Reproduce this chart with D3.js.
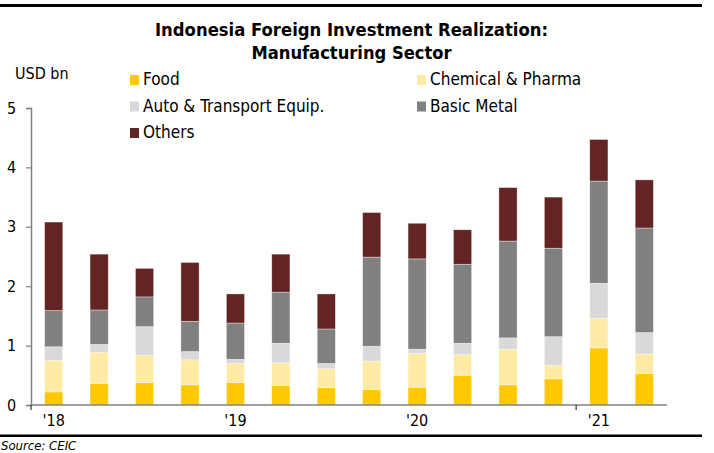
<!DOCTYPE html>
<html>
<head>
<meta charset="utf-8">
<script src="https://cdn.jsdelivr.net/npm/d3@7"></script>
<style>
	body { margin: 0; background: #fff; }
	svg { display: block; }
</style>
</head>
<body>
<div class="chart"></div>
<script>
// quarterly data, Q1 2018 - Q2 2021 (USD bn)
var quarters = ["2018Q1","2018Q2","2018Q3","2018Q4","2019Q1","2019Q2","2019Q3","2019Q4",
	"2020Q1","2020Q2","2020Q3","2020Q4","2021Q1","2021Q2"];
var food     = [0.22, 0.36, 0.38, 0.34, 0.38, 0.33, 0.29, 0.26, 0.30, 0.50, 0.34, 0.44, 0.96, 0.53];
var chemical = [0.53, 0.53, 0.46, 0.42, 0.32, 0.38, 0.32, 0.48, 0.57, 0.35, 0.60, 0.23, 0.50, 0.33];
var auto     = [0.23, 0.13, 0.48, 0.14, 0.07, 0.33, 0.09, 0.25, 0.07, 0.19, 0.19, 0.48, 0.59, 0.36];
var metal    = [0.61, 0.58, 0.50, 0.51, 0.61, 0.86, 0.58, 1.50, 1.52, 1.33, 1.63, 1.49, 1.72, 1.76];
var others   = [1.49, 0.94, 0.48, 0.99, 0.49, 0.64, 0.59, 0.75, 0.60, 0.58, 0.90, 0.86, 0.70, 0.81];

var seriesNames = ["Food", "Chemical & Pharma", "Auto & Transport Equip.", "Basic Metal", "Others"];
var yTicks = [0, 1, 2, 3, 4, 5];
var xLabels = {"2018Q1": "'18", "2019Q1": "'19", "2020Q1": "'20", "2021Q1": "'21"};
var xTickMarks = ["2018Q1", "2021Q1"];

var colors = ["#ffc800", "#ffeba5", "#d9d9d9", "#808080", "#632523"];
var font = "'DejaVu Sans Condensed', 'DejaVu Sans', sans-serif";

var w = 714, h = 453;
var svg = d3.select('.chart')
	.append('svg')
	.attr('width', w)
	.attr('height', h);

var rows = quarters.map(function(q, i){
	return {q: q, s0: food[i], s1: chemical[i], s2: auto[i], s3: metal[i], s4: others[i]};
});
var stack = d3.stack().keys(["s0","s1","s2","s3","s4"]);
var layers = stack(rows);

var x = d3.scaleBand()
	.domain(quarters)
	.range([31, 667])
	.paddingInner(0.6)
	.paddingOuter(0.3);

var y = d3.scaleLinear()
	.domain([0, 5])
	.range([405, 108]);

// frame lines
svg.append('rect').attr('x', 0).attr('y', 4).attr('width', 702).attr('height', 3).attr('fill', '#000');
svg.append('rect').attr('x', 0).attr('y', 434.5).attr('width', 702).attr('height', 2.5).attr('fill', '#000');

// title
svg.append('text')
	.attr('x', 351.5).attr('y', 36)
	.attr('text-anchor', 'middle')
	.attr('font-family', font).attr('font-weight', 'bold').attr('font-size', '18px')
	.attr('textLength', 393).attr('lengthAdjust', 'spacingAndGlyphs')
	.text('Indonesia Foreign Investment Realization:');
svg.append('text')
	.attr('x', 351.5).attr('y', 59)
	.attr('text-anchor', 'middle')
	.attr('font-family', font).attr('font-weight', 'bold').attr('font-size', '18px')
	.attr('textLength', 200).attr('lengthAdjust', 'spacingAndGlyphs')
	.text('Manufacturing Sector');

svg.append('text')
	.attr('x', 15).attr('y', 79)
	.attr('font-family', font).attr('font-size', '16px')
	.attr('fill', '#000')
	.text('USD bn');

// bars
svg.selectAll('g.layer')
	.data(layers)
	.enter()
	.append('g')
	.attr('class', 'layer')
	.attr('fill', function(d, i){ return colors[i]; })
	.selectAll('rect')
	.data(function(d){ return d; })
	.enter()
	.append('rect')
	.attr('x', function(d){ return x(d.data.q); })
	.attr('y', function(d){ return y(d[1]); })
	.attr('width', x.bandwidth())
	.attr('height', function(d){ return y(d[0]) - y(d[1]); })
	.attr('stroke', '#fff')
	.attr('stroke-opacity', 0.6)
	.attr('stroke-width', 0.6);

// y axis
var yAxis = d3.axisLeft(y).tickValues(yTicks).tickSize(5).tickPadding(3).tickFormat(d3.format('d'));
var yg = svg.append('g').attr('transform', 'translate(31,0)').call(yAxis);
yg.select('.domain').attr('stroke', '#808080').attr('stroke-width', 1.5);
yg.selectAll('.tick line').attr('stroke', '#808080').attr('stroke-width', 1.2);
yg.selectAll('.tick text')
	.attr('font-family', font).attr('font-size', '16px').attr('fill', '#000')
	.attr('x', -24).attr('text-anchor', 'start');

// x axis
var step = x.step();
svg.append('line')
	.attr('x1', 31).attr('x2', 667)
	.attr('y1', y(0)).attr('y2', y(0))
	.attr('stroke', '#808080').attr('stroke-width', 1.5);

svg.selectAll('line.xtick')
	.data(xTickMarks)
	.enter()
	.append('line')
	.attr('class', 'xtick')
	.attr('x1', function(d){ return x(d) - step * x.paddingInner() / 2; })
	.attr('x2', function(d){ return x(d) - step * x.paddingInner() / 2; })
	.attr('y1', y(0)).attr('y2', y(0) + 5)
	.attr('stroke', '#333').attr('stroke-width', 1.2);

svg.selectAll('text.xlabel')
	.data(Object.keys(xLabels))
	.enter()
	.append('text')
	.attr('class', 'xlabel')
	.attr('x', function(d){ return x(d) + x.bandwidth() / 2; })
	.attr('y', 426)
	.attr('text-anchor', 'middle')
	.attr('font-family', font).attr('font-size', '16px')
	.text(function(d){ return xLabels[d]; });

// legend
var legendPos = [[130, 85], [417, 85], [130, 111.5], [417, 111.5], [130, 138]];
var legend = svg.selectAll('g.legend')
	.data(seriesNames)
	.enter()
	.append('g')
	.attr('class', 'legend')
	.attr('transform', function(d, i){ return 'translate(' + legendPos[i][0] + ',' + legendPos[i][1] + ')'; });
legend.append('rect')
	.attr('x', 0).attr('y', -10)
	.attr('width', 9).attr('height', 10)
	.attr('fill', function(d, i){ return colors[i]; });
legend.append('text')
	.attr('x', 13).attr('y', 0)
	.attr('font-family', font).attr('font-size', '17px')
	.text(function(d){ return d; });

// source (sits right at the bottom edge)
svg.append('text')
	.attr('x', 1).attr('y', 450)
	.attr('font-family', font).attr('font-style', 'italic').attr('font-size', '13px')
	.text('Source: CEIC');
</script>
</body>
</html>
